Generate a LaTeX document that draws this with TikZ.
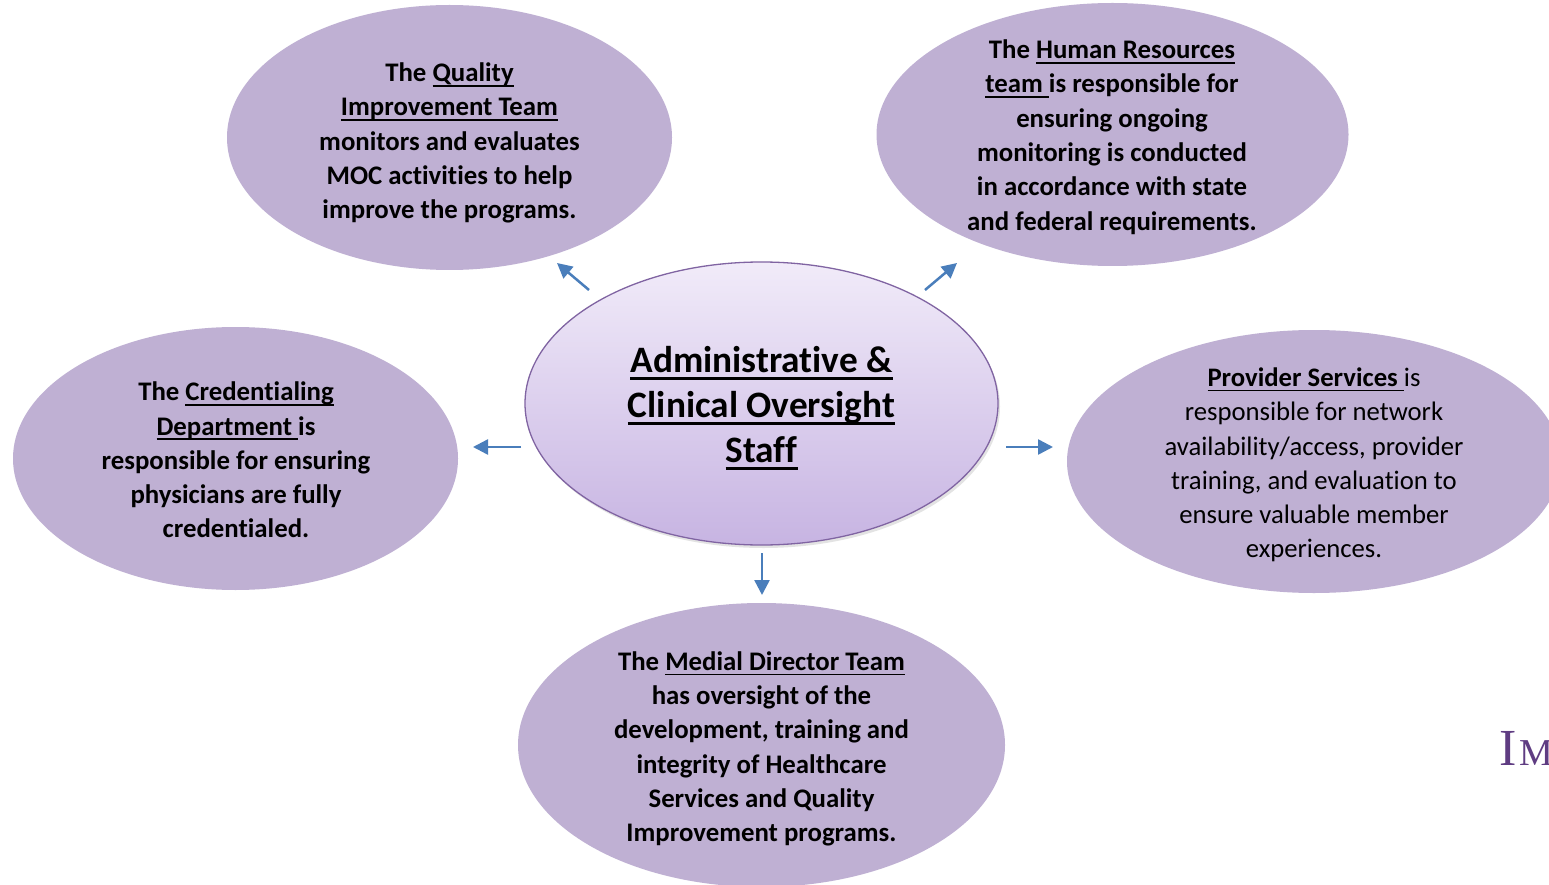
\documentclass[tikz,border=0pt]{standalone}
\usepackage{fontspec}
\setmainfont{Carlito}[Ligatures=NoCommon]
\newfontfamily\logofont{Liberation Serif}
\usetikzlibrary{shapes.geometric,arrows.meta,shadows}
\definecolor{outerfill}{RGB}{191,176,211}
\definecolor{arrowblue}{RGB}{74,126,187}
\definecolor{rimpurple}{RGB}{128,100,162}
\definecolor{topfill}{RGB}{241,235,249}
\definecolor{botfill}{RGB}{199,180,226}
\definecolor{logopurple}{RGB}{95,60,130}
\newsavebox\ulbox
\newcommand\bodyul[1]{\sbox\ulbox{#1}\rlap{\vrule width\wd\ulbox height -3.2pt depth 5pt}\usebox\ulbox}
\newcommand\titleul[1]{\sbox\ulbox{#1}\rlap{\vrule width\wd\ulbox height -4.4pt depth 7pt}\usebox\ulbox}
\begin{document}
\begin{tikzpicture}[x=1pt,y=-1pt,
  bubble/.style={ellipse, fill=outerfill, draw=none, inner sep=0pt},
  bodytext/.style={align=center, font=\fontsize{26.8}{34.3}\selectfont\bfseries, inner sep=0pt},
  plaintext/.style={align=center, font=\fontsize{26.7}{34.3}\selectfont, inner sep=0pt},
  titletext/.style={align=center, font=\fontsize{37.3}{45}\selectfont\bfseries, inner sep=0pt},
  link/.style={draw=arrowblue, line width=2.5pt, -{Triangle[length=15pt,width=15pt]}}
]
\useasboundingbox (0,0) rectangle (1549,885);
\fill[white] (0,0) rectangle (1549,885);

% outer bubbles
\node[bubble, minimum width=445pt, minimum height=265pt] (qb) at (449.5,137.5) {};
\node[bubble, minimum width=472pt, minimum height=263pt] (hb) at (1112.5,134.5) {};
\node[bubble, minimum width=445pt, minimum height=263pt] (cb) at (235.5,458.5) {};
\node[bubble, minimum width=494pt, minimum height=263pt] (pb) at (1314,461.5) {};
\node[bubble, minimum width=487pt, minimum height=284pt] (mb) at (761.5,745) {};

% central bubble
\node[ellipse, inner sep=0pt, minimum width=473pt, minimum height=283pt,
  top color=topfill, bottom color=botfill, draw=rimpurple, line width=1.3pt,
  drop shadow={opacity=0.22, shadow xshift=2pt, shadow yshift=-3pt}] (ctr) at (761.5,403.5) {};

% texts
\node[titletext] (ctrT) at (761.5,408) {\titleul{Administrative \&}\\ \titleul{Clinical Oversight}\\ \titleul{Staff}};

\node[bodytext] (qT) at (449.5,143) {The \bodyul{Quality}\\ \bodyul{Improvement Team}\\ monitors and evaluates\\ MOC activities to help\\ improve the programs.};

\node[bodytext] (hT) at (1112,137) {The \bodyul{Human Resources}\\ \bodyul{team\ }is responsible for\\ ensuring ongoing\\ monitoring is conducted\\ in accordance with state\\ and federal requirements.};

\node[bodytext] (cT) at (236,460) {The \bodyul{Credentialing}\\ \bodyul{Department\ }is\\ responsible for ensuring\\ physicians are fully\\ credentialed.};

\node[plaintext] (pT) at (1314,465) {\textbf{\bodyul{Provider Services\ }}is\\ responsible for network\\ availability/access, provider\\ training, and evaluation to\\ ensure valuable member\\ experiences.};

\node[bodytext] (mT) at (761.5,749) {The \bodyul{Medial Director Team}\\ has oversight of the\\ development, training and\\ integrity of Healthcare\\ Services and Quality\\ Improvement programs.};

% logo fragment (cut off at the right edge, as in the reference)
\node[anchor=base west, inner sep=0pt, text=logopurple, font=\logofont\fontsize{52}{52}\selectfont] (logo) at (1499,765) {I\hspace{3pt}\fontsize{38}{38}\selectfont M};

% arrows
\coordinate (a1s) at (589,290); \coordinate (a1e) at (557,263);
\coordinate (a2s) at (925,290); \coordinate (a2e) at (957,263);
\coordinate (a3s) at (521,447); \coordinate (a3e) at (473,447);
\coordinate (a4s) at (1006,447); \coordinate (a4e) at (1053,447);
\coordinate (a5s) at (762,553); \coordinate (a5e) at (762,595);
\draw[link] (a1s) -- (a1e);
\draw[link] (a2s) -- (a2e);
\draw[link] (a3s) -- (a3e);
\draw[link] (a4s) -- (a4e);
\draw[link] (a5s) -- (a5e);
\end{tikzpicture}
\end{document}
